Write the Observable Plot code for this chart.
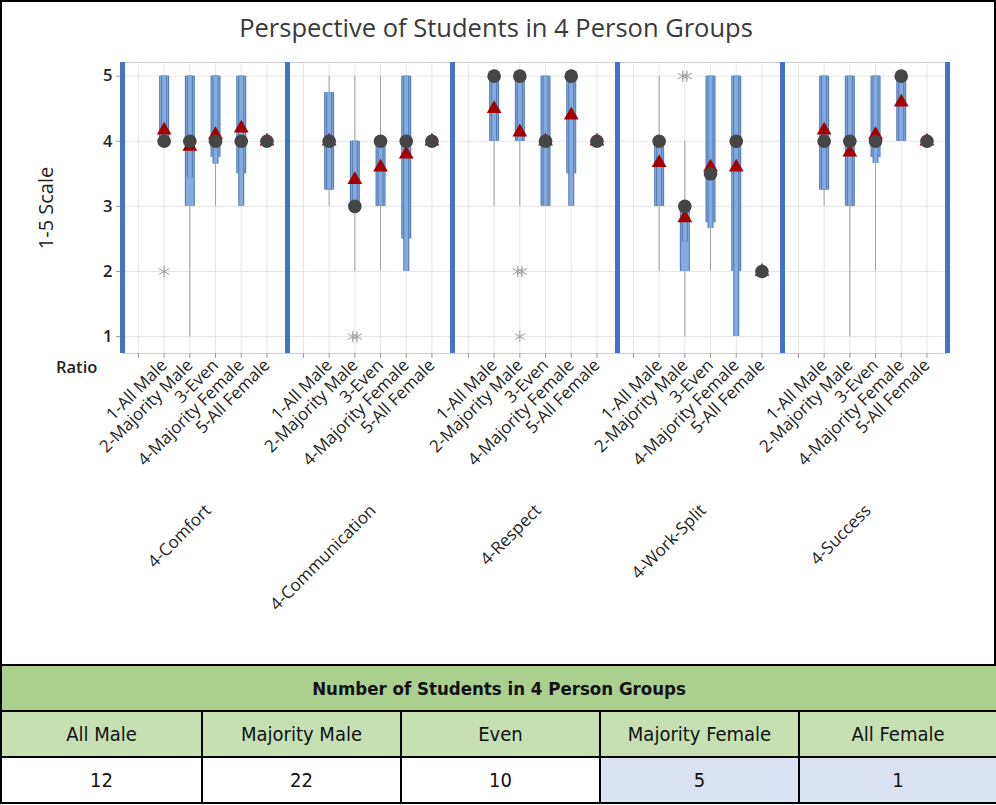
<!DOCTYPE html>
<html>
<head>
<meta charset="utf-8">
<script src="https://cdn.jsdelivr.net/npm/d3@7"></script>
<script src="https://cdn.jsdelivr.net/npm/@observablehq/plot@0.6"></script>
<style>
  html, body { margin: 0; padding: 0; background: #fff; }
  #page { position: relative; width: 996px; height: 805px; overflow: hidden; font-family: "Open Sans", sans-serif; }
  #frame { position: absolute; left: 0; top: 0; width: 992px; height: 662px; border: 2px solid #000; box-sizing: content-box; }
  #chart { position: absolute; left: 0; top: 0; }
  #title { position: absolute; left: 0; width: 992px; top: 10px; text-align: center; font-size: 25.5px; color: #3a3a3a; }
  #ylabel { position: absolute; left: 45px; top: 208px; transform: translate(-50%, -50%) rotate(-90deg); font-size: 20px; color: #222; white-space: nowrap; }
  #ratio { position: absolute; left: 56px; top: 355px; font-size: 16.5px; font-weight: 600; color: #222; }
  #tbl { position: absolute; left: 0; top: 664px; width: 996px; border-collapse: collapse; table-layout: fixed;
         font-family: "Liberation Sans Narrow", "DejaVu Sans Condensed", sans-serif; }
  #tbl td { border: 2px solid #000; text-align: center; height: 44px; padding: 0; font-size: 20px; color: #111; }
  #tbl tr.h td { background: #a9d08e; font-weight: bold; font-size: 18.5px; }
  #tbl tr.c td { background: #c6e0b4; }
  #tbl tr.v td { background: #fff; }
  #tbl tr.v td.blue { background: #d9e1f2; }
</style>
</head>
<body>
<div id="page">
  <div id="chart"></div>
  <div id="frame"></div>
  <div id="title">Perspective of Students in 4 Person Groups</div>
  <div id="ylabel">1-5 Scale</div>
  <div id="ratio">Ratio</div>
  <table id="tbl"></table>
</div>
<script>
// ---- data ----
const measures = ["4-Comfort", "4-Communication", "4-Respect", "4-Work-Split", "4-Success"];
const ratios = ["1-All Male", "2-Majority Male", "3-Even", "4-Majority Female", "5-All Female"];
const yTicks = [1, 2, 3, 4, 5];

// rows = measures, columns = ratios
const q1 = [
  [4, 3, 3.75, 3.5, 4],
  [3.25, 3, 3, 2.5, 4],
  [4, 4, 3, 3.5, 4],
  [3, 2, 2.75, 2, 2],
  [3.25, 3, 3.75, 4, 4]
];
const q3 = [
  [5, 5, 5, 5, 4],
  [4.75, 4, 4, 5, 4],
  [5, 5, 5, 5, 4],
  [4, 3, 5, 5, 2],
  [5, 5, 5, 5, 4]
];
const medians = [
  [4, 4, 4, 4, 4],
  [4, 3, 4, 4, 4],
  [5, 5, 4, 5, 4],
  [4, 3, 3.5, 4, 2],
  [4, 4, 4, 5, 4]
];
const means = [
  [4.17, 3.92, 4.1, 4.2, 4],
  [4.0, 3.41, 3.6, 3.8, 4],
  [4.5, 4.14, 4.0, 4.4, 4],
  [3.67, 2.82, 3.6, 3.6, 2],
  [4.17, 3.83, 4.1, 4.6, 4]
];
const whiskerLow = [
  [4, 1, 3, 3, 4],
  [3, 2, 2, 2, 4],
  [3, 3, 3, 3, 4],
  [2, 1, 2, 1, 2],
  [3, 1, 2, 4, 4]
];
const whiskerHigh = [
  [5, 5, 5, 5, 4],
  [5, 5, 5, 5, 4],
  [5, 5, 5, 5, 4],
  [5, 4, 5, 5, 2],
  [5, 5, 5, 5, 4]
];
const ciLow = [
  [4, 3.44, 3.65, 3, 4],
  [3.25, 3, 3, 2, 4],
  [4, 4, 3, 3, 4],
  [3, 2.45, 2.66, 1, 2],
  [3.25, 3, 3.66, 4, 4]
];
const ciHigh = [
  [5, 5, 5, 5, 4],
  [4.75, 4, 4, 5, 4],
  [5, 5, 5, 5, 4],
  [4, 3, 5, 5, 2],
  [5, 5, 5, 5, 4]
];
// outliers: [measure index, ratio index, value]
const outlierMeasure = [0, 1, 1, 2, 2, 2, 3, 3];
const outlierRatio   = [0, 1, 1, 1, 1, 1, 1, 1];
const outlierValue   = [2, 1, 1, 2, 2, 1, 5, 5];

// table
const groupNames = ["All Male", "Majority Male", "Even", "Majority Female", "All Female"];
const groupCounts = [12, 22, 10, 5, 1];

// ---- build ----
const xTicks = [0, 1, 2, 3, 4, 5];
const xDomain = [-0.62, 5.8];
const yDomain = [0.74, 5.21];

const rows = [];
measures.forEach((m, i) => ratios.forEach((r, j) => rows.push({
  measure: m, ratio: r, idx: j + 1,
  q1: q1[i][j], q3: q3[i][j], median: medians[i][j], mean: means[i][j],
  wLo: whiskerLow[i][j], wHi: whiskerHigh[i][j], ciLo: ciLow[i][j], ciHi: ciHigh[i][j]
})));

const outliers = outlierValue.map((v, k) => ({ measure: measures[outlierMeasure[k]], idx: outlierRatio[k] + 1, value: v }));
// spread coincident outliers slightly, like the original's overlapping asterisks
const groups = d3.group(outliers, d => d.measure + "|" + d.idx + "|" + d.value);
for (const g of groups.values()) g.forEach((d, k) => d.xj = d.idx + (k - (g.length - 1) / 2) * 0.16);

const boxFill = "#83abe0";
const boxEdge = "#5179b0";

const chart = Plot.plot({
  width: 996,
  height: 662,
  marginLeft: 121,
  marginRight: 48,
  marginTop: 62,
  marginBottom: 309,
  style: { fontFamily: "'Open Sans', sans-serif", background: "transparent" },
  fx: { domain: measures, padding: 0, axis: null },
  x: { domain: xDomain, axis: null },
  y: { domain: yDomain, axis: null },
  marks: [
    Plot.gridY(yTicks, { stroke: "#e6e6e6", strokeOpacity: 1 }),
    Plot.gridX(xTicks, { stroke: "#e6e6e6", strokeOpacity: 1 }),
    Plot.frame({ stroke: "#cfcfcf" }),
    Plot.axisY(yTicks, { anchor: "left", tickSize: 6, tickPadding: 4, fontSize: 16.5, fontWeight: 600, stroke: "#999", fill: "#222", label: null,
      tickFormat: d3.format("d") }),
    Plot.axisX(xTicks, { anchor: "bottom", tickSize: 5, tickPadding: 4, tickRotate: -45, fontSize: 17, stroke: "#999", fill: "#222", label: null,
      tickFormat: i => i === 0 ? "" : ratios[i - 1] }),
    Plot.ruleX(rows, { x: "idx", y1: "wLo", y2: "wHi", fx: "measure", stroke: "#a0a0a0", strokeWidth: 1 }),
    Plot.ruleX(rows, { x: "idx", y1: "q1", y2: "q3", fx: "measure", stroke: boxEdge, strokeWidth: 10 }),
    Plot.ruleX(rows, { x: "idx", y1: "q1", y2: "q3", fx: "measure", stroke: boxFill, strokeWidth: 8 }),
    Plot.ruleX(rows, { x: "idx", y1: "ciLo", y2: "ciHi", fx: "measure", stroke: boxEdge, strokeWidth: 6 }),
    Plot.ruleX(rows, { x: "idx", y1: "ciLo", y2: "ciHi", fx: "measure", stroke: boxFill, strokeWidth: 4 }),
    Plot.dot(outliers, { x: "xj", y: "value", fx: "measure", symbol: "asterisk", r: 5.5, stroke: "#9a9a9a", strokeWidth: 1 }),
    Plot.dot(rows, { x: "idx", y: "mean", fx: "measure", symbol: "triangle", r: 5.5, fill: "#a30000", stroke: "none" }),
    Plot.dot(rows, { x: "idx", y: "median", fx: "measure", r: 6.8, fill: "#454545", stroke: "none" }),
    Plot.ruleX(xDomain, { stroke: "#4472c4", strokeWidth: 5 }),
    Plot.text(measures, { fx: d => d, text: d => d, frameAnchor: "bottom", rotate: -45, textAnchor: "end", dx: 7, dy: 158, fontSize: 17, fill: "#222" })
  ]
});
document.getElementById("chart").appendChild(chart);

// table
const tbl = document.getElementById("tbl");
tbl.innerHTML =
  `<colgroup><col style="width:201px"><col style="width:199px"><col style="width:199px"><col style="width:199px"><col style="width:198px"></colgroup>` +
  `<tr class="h"><td colspan="5">Number of Students in 4 Person Groups</td></tr>` +
  `<tr class="c">${groupNames.map(n => `<td>${n}</td>`).join("")}</tr>` +
  `<tr class="v">${groupCounts.map((c, i) => `<td class="${i >= 3 ? "blue" : ""}">${c}</td>`).join("")}</tr>`;
</script>
</body>
</html>
